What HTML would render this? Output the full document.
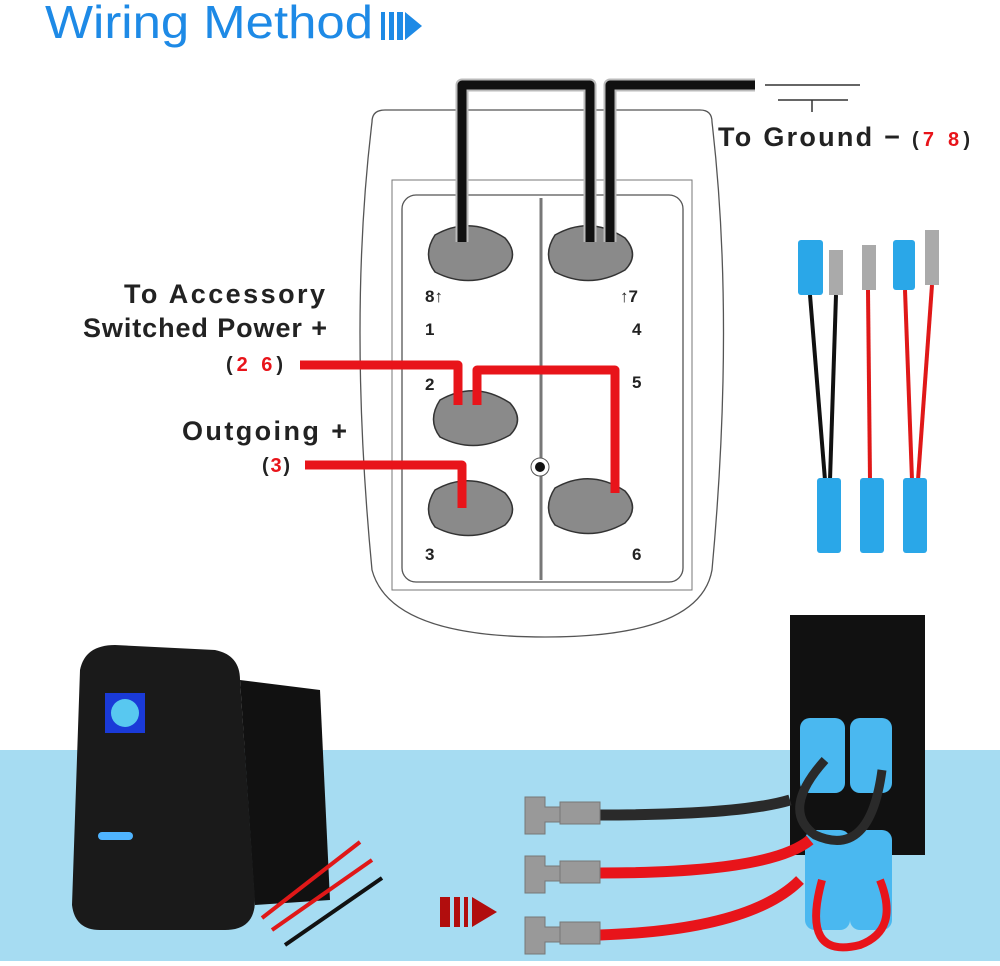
<!DOCTYPE html>
<html><head><style>
body{margin:0;background:#fff;width:1000px;height:961px;overflow:hidden;font-family:"Liberation Sans",sans-serif}
</style></head><body>
<svg width="1000" height="961" viewBox="0 0 1000 961" xmlns="http://www.w3.org/2000/svg" font-family="Liberation Sans, sans-serif">
<rect x="0" y="750" width="1000" height="211" fill="#a6dcf2"/>
<text x="45" y="38" font-size="46" fill="#1e8ae6" textLength="328" lengthAdjust="spacingAndGlyphs">Wiring Method</text>
<rect x="381" y="12" width="4" height="28" fill="#1e8ae6"/><rect x="389" y="12" width="5" height="28" fill="#1e8ae6"/><rect x="397" y="12" width="6" height="28" fill="#1e8ae6"/>
<polygon points="405,12 422,26 405,40" fill="#1e8ae6"/>
<path d="M385,110 L700,110 Q712,110 712,122 Q735,320 712,570 Q700,637 545,637 Q390,637 372,570 Q348,320 372,122 Q372,110 385,110 Z" fill="none" stroke="#555" stroke-width="1.3"/>
<rect x="392" y="180" width="300" height="410" fill="none" stroke="#777" stroke-width="1"/>
<rect x="402" y="195" width="281" height="387" rx="14" fill="none" stroke="#555" stroke-width="1.3"/>
<line x1="541" y1="198" x2="541" y2="580" stroke="#777" stroke-width="3"/>
<circle cx="540" cy="467" r="9" fill="#fff" stroke="#555"/><circle cx="540" cy="467" r="5" fill="#111"/>
<g fill="#8a8a8a" stroke="#333" stroke-width="1.5">
<path d="M435,235 Q470,215 505,238 Q520,255 505,270 Q470,290 435,272 Q422,255 435,235Z"/>
<path d="M555,235 Q590,215 625,238 Q640,255 625,270 Q590,290 555,272 Q542,255 555,235Z"/>
<path d="M440,400 Q475,380 510,403 Q525,420 510,435 Q475,455 440,437 Q427,420 440,400Z"/>
<path d="M435,490 Q470,470 505,493 Q520,510 505,525 Q470,545 435,527 Q422,510 435,490Z"/>
<path d="M555,488 Q590,468 625,491 Q640,508 625,523 Q590,543 555,525 Q542,508 555,488Z"/>
</g>
<g fill="none" stroke-linejoin="round">
<path d="M462,242 V85 H590 V242" stroke="#bbb" stroke-width="13"/>
<path d="M610,242 V85 H755" stroke="#bbb" stroke-width="13"/>
<path d="M462,242 V85 H590 V242" stroke="#111" stroke-width="9"/>
<path d="M610,242 V85 H755" stroke="#111" stroke-width="9"/>
<path d="M300,365 H458 V405" stroke="#e8141a" stroke-width="9"/>
<path d="M477,405 V370 H615 V493" stroke="#e8141a" stroke-width="9"/>
<path d="M305,465 H462 V508" stroke="#e8141a" stroke-width="9"/>
</g>
<line x1="765" y1="85" x2="860" y2="85" stroke="#333" stroke-width="1.5"/>
<line x1="778" y1="100" x2="848" y2="100" stroke="#333" stroke-width="1.5"/>
<line x1="812" y1="100" x2="812" y2="112" stroke="#333" stroke-width="1.5"/>
<g font-size="17" font-weight="bold" fill="#222">
<text x="425" y="302">8↑</text><text x="620" y="302">↑7</text>
<text x="425" y="335">1</text><text x="632" y="335">4</text>
<text x="425" y="390">2</text><text x="632" y="388">5</text>
<text x="425" y="560">3</text><text x="632" y="560">6</text>
</g>
<g font-size="27" font-weight="bold" fill="#222">
<text x="718" y="146" textLength="182">To Ground −</text>
<text x="124" y="303" textLength="201">To Accessory</text>
<text x="83" y="337" textLength="244">Switched Power +</text>
<text x="182" y="440" textLength="165">Outgoing +</text>
</g>
<g font-size="20" font-weight="bold">
<text x="912" y="146" fill="#222" textLength="58">(<tspan fill="#e8141a">7  8</tspan>)</text>
<text x="226" y="371" fill="#222" textLength="57">(<tspan fill="#e8141a">2  6</tspan>)</text>
<text x="262" y="472" fill="#222" textLength="28">(<tspan fill="#e8141a">3</tspan>)</text>
</g>
<g>
<path d="M810,295 L825,480" stroke="#111" stroke-width="4"/><path d="M836,295 L830,480" stroke="#111" stroke-width="4"/>
<path d="M868,290 L870,480" stroke="#e01818" stroke-width="4"/>
<path d="M905,290 L912,480" stroke="#e01818" stroke-width="4"/><path d="M932,285 L918,480" stroke="#e01818" stroke-width="4"/>
<rect x="798" y="240" width="25" height="55" rx="3" fill="#2aa7e8"/><rect x="829" y="250" width="14" height="45" fill="#aaa"/>
<rect x="862" y="245" width="14" height="45" fill="#aaa"/><rect x="893" y="240" width="22" height="50" rx="3" fill="#2aa7e8"/>
<rect x="925" y="230" width="14" height="55" fill="#aaa"/>
<rect x="817" y="478" width="24" height="75" rx="3" fill="#2aa7e8"/><rect x="860" y="478" width="24" height="75" rx="3" fill="#2aa7e8"/><rect x="903" y="478" width="24" height="75" rx="3" fill="#2aa7e8"/>
</g>
<path d="M240,680 L320,690 L330,900 L255,905Z" fill="#111"/>
<path d="M80,670 Q85,645 115,645 L215,650 Q240,655 240,680 L255,900 Q255,930 225,930 L100,930 Q75,930 72,905 Z" fill="#1a1a1a"/>
<rect x="105" y="693" width="40" height="40" fill="#1a3ad8"/><circle cx="125" cy="713" r="14" fill="#58c8f0"/>
<rect x="98" y="832" width="35" height="8" rx="4" fill="#4fb4ff"/>
<g stroke-width="4" fill="none">
<path d="M262,918 L360,842" stroke="#e01818"/><path d="M272,930 L372,860" stroke="#e01818"/><path d="M285,945 L382,878" stroke="#111"/>
</g>
<rect x="440" y="897" width="10" height="30" fill="#b10d0d"/><rect x="454" y="897" width="6" height="30" fill="#b10d0d"/><rect x="464" y="897" width="4" height="30" fill="#b10d0d"/>
<polygon points="472,897 497,912 472,927" fill="#b10d0d"/>
<rect x="790" y="615" width="135" height="240" fill="#111"/>
<rect x="800" y="718" width="45" height="75" rx="10" fill="#4ab8f0"/><rect x="850" y="718" width="42" height="75" rx="10" fill="#4ab8f0"/>
<rect x="805" y="830" width="45" height="100" rx="10" fill="#4ab8f0"/><rect x="850" y="830" width="42" height="100" rx="10" fill="#4ab8f0"/>
<g fill="none" stroke-width="11">
<path d="M600,815 Q740,815 790,800" stroke="#2a2a2a"/>
<path d="M825,760 Q780,810 815,835 Q870,860 882,770" stroke="#2a2a2a" stroke-width="9"/>
<path d="M600,873 Q770,873 810,840" stroke="#e8141a"/>
<path d="M600,935 Q750,930 800,880" stroke="#e8141a"/>
<path d="M822,880 Q800,960 860,945 Q900,930 880,880" stroke="#e8141a" stroke-width="8"/>
</g>
<g fill="#999" stroke="#777">
<path d="M525,797 h20 v10 h15 v15 h-15 v12 h-20z"/><rect x="560" y="802" width="40" height="22"/>
<path d="M525,856 h20 v10 h15 v15 h-15 v12 h-20z"/><rect x="560" y="861" width="40" height="22"/>
<path d="M525,917 h20 v10 h15 v15 h-15 v12 h-20z"/><rect x="560" y="922" width="40" height="22"/>
</g>
</svg>
</body></html>
